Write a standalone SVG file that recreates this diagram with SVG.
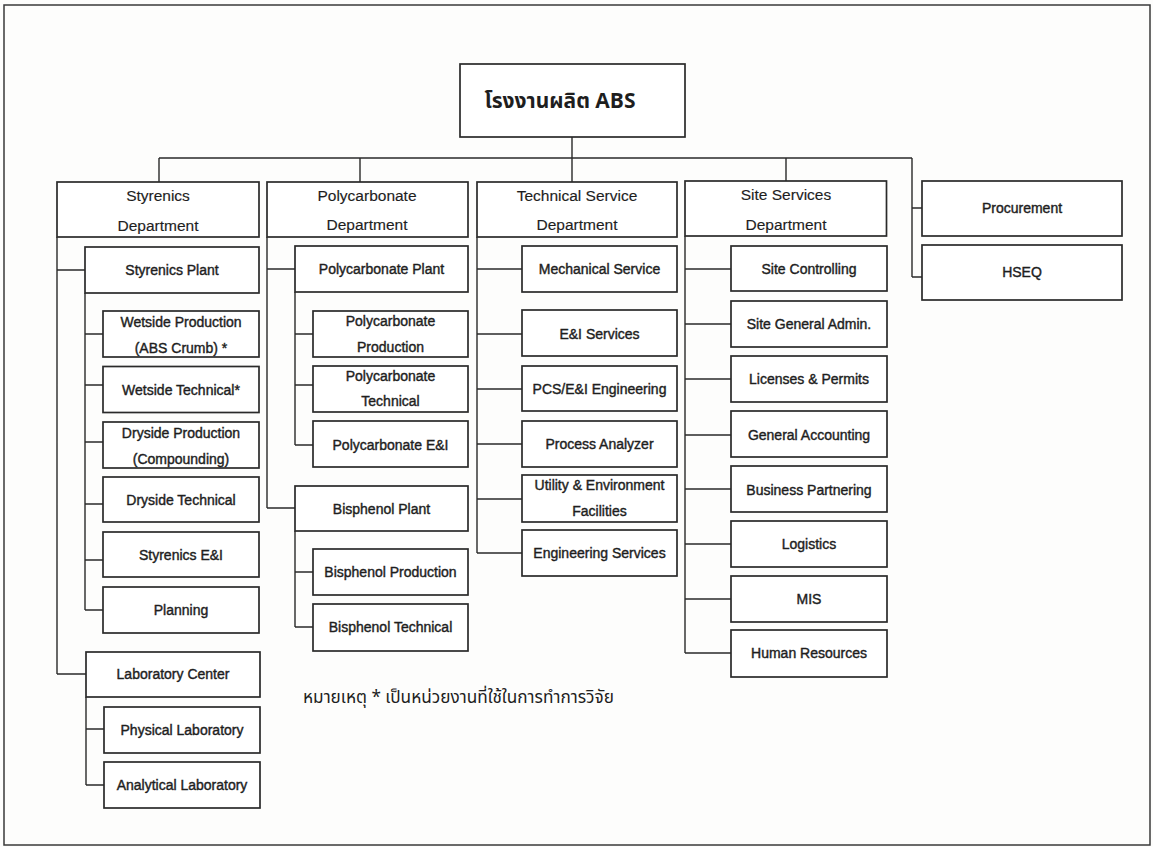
<svg xmlns="http://www.w3.org/2000/svg" width="1153" height="847" viewBox="0 0 1153 847">
<style>
.bg{fill:#fdfdfc}
.frame{fill:none;stroke:#3a3a3a;stroke-width:1.5}
.box{fill:#fff;stroke:#2a2a2a;stroke-width:1.7}
.conn{fill:none;stroke:#2a2a2a;stroke-width:1.4}
.t{font-family:"Liberation Sans",Arial,sans-serif;font-size:14px;fill:#1e1e1e;stroke:#1e1e1e;stroke-width:0.4;text-anchor:middle}
.d{font-family:"Liberation Sans",Arial,sans-serif;font-size:15.5px;fill:#1e1e1e;stroke:#1e1e1e;stroke-width:0.15;text-anchor:middle}
.th{font-family:"Noto Sans Thai","Noto Sans","DejaVu Sans",sans-serif;fill:#1e1e1e}
</style>
<rect class="bg" x="0" y="0" width="1153" height="847"/>
<rect class="frame" x="4" y="5" width="1146" height="840"/>

<g id="connectors">
<path class="conn" d="M572 137V158M159 158H912M159 158V182M360 158V182M572 158V182M786 158V182M912 158V277M912 208H922M912 277H922"/>
<path class="conn" d="M57 237V674M57 270H85M57 674H86M85 293V610M85 334H103M85 385H103M85 442H103M85 504H103M85 560H103M85 610H103M86 697V785M86 729H104M86 785H104"/>
<path class="conn" d="M267 237V508M267 269H295M267 508H295M295 292V445M295 334H313M295 385H313M295 445H313M295 531V627M295 572H313M295 627H313"/>
<path class="conn" d="M477 237V553M477 269H522M477 334H522M477 389H522M477 444H522M477 499H522M477 553H522"/>
<path class="conn" d="M685 236V653M685 269H731M685 324H731M685 379H731M685 435H731M685 489H731M685 544H731M685 599H731M685 653H731"/>
</g>

<g id="root"><rect class="box" x="460" y="64" width="225" height="73"/><text class="th" x="560" y="108" font-size="21" font-weight="bold" text-anchor="middle">โรงงานผลิต ABS</text></g>

<g id="styrenics-dept"><rect class="box" x="57" y="182" width="202" height="55"/><text class="d" x="158" y="201">Styrenics</text><text class="d" x="158" y="230.5">Department</text></g>
<g id="polycarbonate-dept"><rect class="box" x="267" y="182" width="201" height="55"/><text class="d" x="367" y="200.5">Polycarbonate</text><text class="d" x="367" y="230">Department</text></g>
<g id="technical-dept"><rect class="box" x="477" y="182" width="200" height="55"/><text class="d" x="577" y="200.5">Technical Service</text><text class="d" x="577" y="230">Department</text></g>
<g id="site-dept"><rect class="box" x="685" y="181" width="201.5" height="55"/><text class="d" x="786" y="200">Site Services</text><text class="d" x="786" y="229.5">Department</text></g>
<g id="procurement"><rect class="box" x="922" y="181" width="200" height="55"/><text class="t" x="1022" y="213">Procurement</text></g>
<g id="hseq"><rect class="box" x="922" y="245" width="200" height="55"/><text class="t" x="1022" y="277">HSEQ</text></g>

<g id="styrenics-plant"><rect class="box" x="85" y="247" width="174" height="46"/><text class="t" x="172" y="274.5">Styrenics Plant</text></g>
<g id="wetside-production"><rect class="box" x="103" y="311" width="156" height="46"/><text class="t" x="181" y="327">Wetside Production</text><text class="t" x="181" y="353">(ABS Crumb) *</text></g>
<g id="wetside-technical"><rect class="box" x="103" y="366.5" width="156" height="46"/><text class="t" x="181" y="394.5">Wetside Technical*</text></g>
<g id="dryside-production"><rect class="box" x="103" y="422" width="156" height="46"/><text class="t" x="181" y="437.5">Dryside Production</text><text class="t" x="181" y="463.5">(Compounding)</text></g>
<g id="dryside-technical"><rect class="box" x="103" y="477" width="156" height="45"/><text class="t" x="181" y="505">Dryside Technical</text></g>
<g id="styrenics-ei"><rect class="box" x="103" y="532" width="156" height="45"/><text class="t" x="181" y="559.5">Styrenics E&amp;I</text></g>
<g id="planning"><rect class="box" x="103" y="587" width="156" height="46"/><text class="t" x="181" y="614.5">Planning</text></g>
<g id="laboratory-center"><rect class="box" x="86" y="652" width="174" height="45"/><text class="t" x="173" y="679">Laboratory Center</text></g>
<g id="physical-laboratory"><rect class="box" x="104" y="707" width="156" height="46"/><text class="t" x="182" y="734.5">Physical Laboratory</text></g>
<g id="analytical-laboratory"><rect class="box" x="104" y="762" width="156" height="46"/><text class="t" x="182" y="790">Analytical Laboratory</text></g>

<g id="polycarbonate-plant"><rect class="box" x="295" y="246" width="173" height="46"/><text class="t" x="381.5" y="274">Polycarbonate Plant</text></g>
<g id="polycarbonate-production"><rect class="box" x="313" y="311" width="155" height="46"/><text class="t" x="390.5" y="326">Polycarbonate</text><text class="t" x="390.5" y="351.5">Production</text></g>
<g id="polycarbonate-technical"><rect class="box" x="313" y="366" width="155" height="46"/><text class="t" x="390.5" y="381">Polycarbonate</text><text class="t" x="390.5" y="406">Technical</text></g>
<g id="polycarbonate-ei"><rect class="box" x="313" y="421" width="155" height="46"/><text class="t" x="390.5" y="450">Polycarbonate E&amp;I</text></g>
<g id="bisphenol-plant"><rect class="box" x="295" y="486" width="173" height="45"/><text class="t" x="381.5" y="513.5">Bisphenol Plant</text></g>
<g id="bisphenol-production"><rect class="box" x="313" y="549" width="155" height="46"/><text class="t" x="390.5" y="577">Bisphenol Production</text></g>
<g id="bisphenol-technical"><rect class="box" x="313" y="604" width="155" height="47"/><text class="t" x="390.5" y="632">Bisphenol Technical</text></g>

<g id="mechanical-service"><rect class="box" x="522" y="246" width="155" height="46"/><text class="t" x="599.5" y="274">Mechanical Service</text></g>
<g id="ei-services"><rect class="box" x="522" y="310" width="155" height="46"/><text class="t" x="599.5" y="338.5">E&amp;I Services</text></g>
<g id="pcs-ei-engineering"><rect class="box" x="522" y="366" width="155" height="45"/><text class="t" x="599.5" y="393.5">PCS/E&amp;I Engineering</text></g>
<g id="process-analyzer"><rect class="box" x="522" y="421" width="155" height="46"/><text class="t" x="599.5" y="449">Process Analyzer</text></g>
<g id="utility-environment"><rect class="box" x="522" y="475" width="155" height="47"/><text class="t" x="599.5" y="490">Utility &amp; Environment</text><text class="t" x="599.5" y="516">Facilities</text></g>
<g id="engineering-services"><rect class="box" x="522" y="530" width="155" height="46"/><text class="t" x="599.5" y="558">Engineering Services</text></g>

<g id="site-controlling"><rect class="box" x="731" y="246" width="156" height="45"/><text class="t" x="809" y="273.5">Site Controlling</text></g>
<g id="site-general-admin"><rect class="box" x="731" y="301" width="156" height="46"/><text class="t" x="809" y="329">Site General Admin.</text></g>
<g id="licenses-permits"><rect class="box" x="731" y="356" width="156" height="46"/><text class="t" x="809" y="384">Licenses &amp; Permits</text></g>
<g id="general-accounting"><rect class="box" x="731" y="411" width="156" height="46"/><text class="t" x="809" y="440">General Accounting</text></g>
<g id="business-partnering"><rect class="box" x="731" y="466" width="156" height="46"/><text class="t" x="809" y="494.5">Business Partnering</text></g>
<g id="logistics"><rect class="box" x="731" y="521" width="156" height="46"/><text class="t" x="809" y="549">Logistics</text></g>
<g id="mis"><rect class="box" x="731" y="576" width="156" height="46"/><text class="t" x="809" y="604">MIS</text></g>
<g id="human-resources"><rect class="box" x="731" y="630" width="156" height="47"/><text class="t" x="809" y="658">Human Resources</text></g>

<text id="footnote" class="th" x="303" y="703" font-size="17.2">หมายเหตุ * เป็นหน่วยงานที่ใช้ในการทำการวิจัย</text>
</svg>
